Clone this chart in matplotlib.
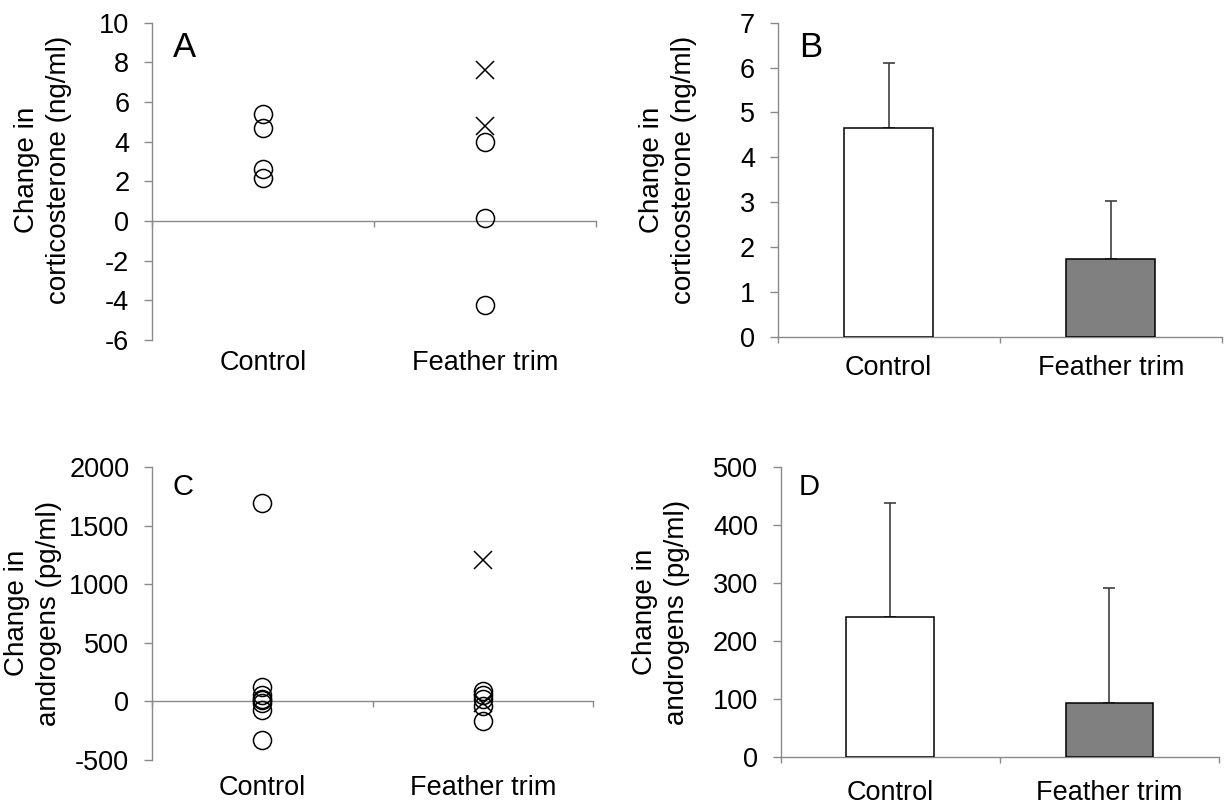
import matplotlib
matplotlib.use('Agg')
import matplotlib.pyplot as plt
import numpy as np

plt.rcParams['font.family'] = ['Liberation Sans', 'DejaVu Sans']
plt.rcParams['axes.unicode_minus'] = False

categories = ['Control', 'Feather trim']

# Panel A: individual corticosterone changes (ng/ml)
a_control_circles = [5.39, 4.67, 2.60, 2.18]
a_trim_circles = [4.00, 0.14, -4.23]
a_trim_crosses = [7.60, 4.79]

# Panel B: corticosterone bars (ng/ml)
b_means = [4.66, 1.73]
b_err = [1.45, 1.29]

# Panel C: individual androgen changes (pg/ml)
c_control_circles = [1695, 123, 51, 25, 9, -14, -73, -332]
c_trim_circles = [90, 55, 25, -40, -165]
c_trim_crosses = [1210, -15]

# Panel D: androgen bars (pg/ml)
d_means = [242, 93]
d_err = [197, 198]

a_yticks = [-6, -4, -2, 0, 2, 4, 6, 8, 10]
b_yticks = [0, 1, 2, 3, 4, 5, 6, 7]
c_yticks = [-500, 0, 500, 1000, 1500, 2000]
d_yticks = [0, 100, 200, 300, 400, 500]

AX_GRAY = '#8a8a8a'
FS = 19.5
LFS = 20

fig = plt.figure(figsize=(12.25, 8.05), dpi=100)
W, H = 1225, 805


def make_ax(l, r, t, b):
    return fig.add_axes([l / W, 1 - b / H, (r - l) / W, (b - t) / H])


def setup(ax, yticks, ylabel, letter, letter_fs, lx, ly, labx, laby, xpad):
    ax.set_xlim(0.5, 2.5)
    ax.set_ylim(yticks[0], yticks[-1])
    ax.set_yticks(yticks)
    ax.set_yticklabels([str(v) for v in yticks])
    ax.set_xticks([1, 2])
    ax.set_xticklabels(categories, fontsize=FS)
    ax.tick_params(axis='x', length=0, pad=xpad)
    ax.tick_params(axis='y', direction='out', length=5.8, width=1,
                   color=AX_GRAY, labelsize=FS, pad=10.5)
    for s in ['top', 'right', 'bottom']:
        ax.spines[s].set_visible(False)
    ax.spines['left'].set_color(AX_GRAY)
    ax.spines['left'].set_linewidth(1)
    sec = ax.secondary_xaxis(0, transform=ax.transData)
    sec.set_xticks([0.5, 1.5, 2.5])
    sec.tick_params(axis='x', length=4, width=1, color=AX_GRAY,
                    labelbottom=False, labeltop=False, direction='out')
    for s in sec.spines.values():
        s.set_color(AX_GRAY)
        s.set_linewidth(1)
    ax.set_ylabel(ylabel, fontsize=LFS, linespacing=1.3)
    ax.yaxis.set_label_coords(labx, laby)
    ax.text(lx, ly, letter, transform=ax.transAxes, fontsize=letter_fs,
            ha='left', va='top')


def scatter_panel(ax, ctrl, trim, crosses):
    ax.plot(np.full(len(ctrl), 1), ctrl, linestyle='none', marker='o',
            ms=13, mfc='none', mec='black', mew=1.1, zorder=3, clip_on=False)
    ax.plot(np.full(len(trim), 2), trim, linestyle='none', marker='o',
            ms=13, mfc='none', mec='black', mew=1.1, zorder=3, clip_on=False)
    ax.plot(np.full(len(crosses), 2), crosses, linestyle='none', marker='x',
            ms=13, mec='black', mew=1.1, zorder=3, clip_on=False)


def bar_panel(ax, means, err):
    ax.bar([1, 2], means, width=0.4, color=['white', '#808080'],
           edgecolor='black', linewidth=1.1, zorder=2)
    ax.errorbar([1, 2], means, yerr=[np.zeros(len(err)), err], fmt='none',
                ecolor='#404040', elinewidth=1.2, capsize=4, capthick=1.2,
                zorder=1)


axA = make_ax(152, 596, 22.7, 340)
scatter_panel(axA, a_control_circles, a_trim_circles, a_trim_crosses)
setup(axA, a_yticks, 'Change in\ncorticosterone (ng/ml)', 'A', 25,
      0.047, 0.975, -0.18, 0.536, 7)

axB = make_ax(777.7, 1221.7, 22.7, 336.7)
bar_panel(axB, b_means, b_err)
setup(axB, b_yticks, 'Change in\ncorticosterone (ng/ml)', 'B', 25,
      0.048, 0.975, -0.182, 0.531, 13)

axC = make_ax(152, 593, 467.3, 760)
scatter_panel(axC, c_control_circles, c_trim_circles, c_trim_crosses)
setup(axC, c_yticks, 'Change in\nandrogens (pg/ml)', 'C', 21,
      0.047, 0.981, -0.204, 0.502, 11)

axD = make_ax(780.7, 1219, 467.3, 756.7)
bar_panel(axD, d_means, d_err)
setup(axD, d_yticks, 'Change in\nandrogens (pg/ml)', 'D', 21,
      0.040, 0.981, -0.207, 0.50, 16.5)

fig.savefig('out.png', dpi=100)
